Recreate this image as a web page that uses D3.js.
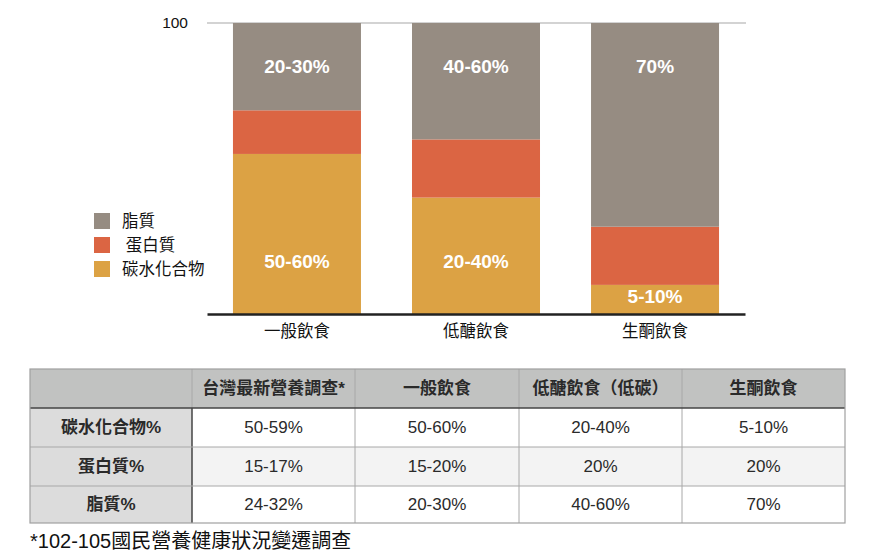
<!DOCTYPE html>
<html><head><meta charset="utf-8">
<script src="https://cdn.jsdelivr.net/npm/d3@7/dist/d3.min.js"></script>
<style>
html,body{margin:0;padding:0;background:#fff;}
svg text{font-family:"Liberation Sans","Helvetica","Noto Sans CJK TC",sans-serif;}
</style></head>
<body>
<svg id="c" width="875" height="560"></svg>
<script>
// ---- data ----
const categories = ["一般飲食", "低醣飲食", "生酮飲食"];
const seriesNames = ["碳水化合物", "蛋白質", "脂質"];
const carbs   = [55, 40, 10];
const protein = [15, 20, 20];
const fat     = [30, 40, 70];
const fatLabels   = ["20-30%", "40-60%", "70%"];
const carbLabels  = ["50-60%", "20-40%", "5-10%"];
const fatLabelPos  = [85, 85, 85];
const carbLabelPos = [18, 18, 6];
const yTicks = [100];
const legendNames = ["脂質", " 蛋白質", "碳水化合物"];
const tableHeader = ["", "台灣最新營養調查*", "一般飲食", "低醣飲食（低碳）", "生酮飲食"];
const tableRowLabels = ["碳水化合物%", "蛋白質%", "脂質%"];
const tableValues = [
  ["50-59%", "50-60%", "20-40%", "5-10%"],
  ["15-17%", "15-20%", "20%", "20%"],
  ["24-32%", "20-30%", "40-60%", "70%"]
];
const footnote = "*102-105國民營養健康狀況變遷調查";

// ---- chart ----
const svg = d3.select("#c");
const colors = {"碳水化合物":"#dca244","蛋白質":"#db6543","脂質":"#968c82"};
const x = d3.scaleBand().domain(categories).range([207, 745]).paddingInner(0.285).paddingOuter(0.145);
const y = d3.scaleLinear().domain([0, 100]).range([314, 23]);

const rows = categories.map((c,i)=>({cat:c, "碳水化合物":carbs[i], "蛋白質":protein[i], "脂質":fat[i]}));
const stack = d3.stack().keys(seriesNames)(rows);

// gridline for 100
svg.append("g").selectAll("line").data(yTicks).join("line")
  .attr("x1", 207).attr("x2", 746).attr("y1", d=>y(d)).attr("y2", d=>y(d))
  .attr("stroke", "#c4c4c4").attr("stroke-width", 1.5);
svg.append("g").selectAll("text").data(yTicks).join("text")
  .attr("x", 188).attr("y", d=>y(d)).attr("dy", "0.35em").attr("text-anchor","end")
  .attr("font-size", 15.5).attr("fill", "#111").text(d=>d);

svg.append("g").selectAll("g").data(stack).join("g")
  .attr("fill", s=>colors[s.key])
  .selectAll("rect").data(s=>s).join("rect")
  .attr("x", d=>x(d.data.cat)).attr("width", x.bandwidth())
  .attr("y", d=>y(d[1])).attr("height", d=>y(d[0])-y(d[1]));

// baseline axis
const xAxis = svg.append("g").attr("transform", `translate(0,${y(0)})`)
  .call(d3.axisBottom(x).tickSize(0).tickPadding(11));
xAxis.select(".domain").attr("stroke", "#222").attr("stroke-width", 2.5);
xAxis.selectAll("text").attr("font-size", 16.5).attr("fill", "#111")
  .style("font-family", '"Noto Sans CJK TC",sans-serif');

// bar labels
const lab = svg.append("g").attr("fill","#fff").attr("font-size",19).attr("font-weight","bold").attr("text-anchor","middle");
lab.selectAll("text.f").data(categories).join("text").attr("class","f")
  .attr("x", c=>x(c)+x.bandwidth()/2).attr("y",(c,i)=>y(fatLabelPos[i])).attr("dy","0.35em")
  .text((c,i)=>fatLabels[i]);
lab.selectAll("text.cb").data(categories).join("text").attr("class","cb")
  .attr("x", c=>x(c)+x.bandwidth()/2).attr("y",(c,i)=>y(carbLabelPos[i])).attr("dy","0.35em")
  .text((c,i)=>carbLabels[i]);

// legend
const legColors = ["#968c82","#db6543","#dca244"];
const leg = svg.append("g").attr("transform","translate(94,213)");
const li = leg.selectAll("g").data(legendNames).join("g").attr("transform",(d,i)=>`translate(0,${i*24})`);
li.append("rect").attr("width",16).attr("height",16).attr("fill",(d,i)=>legColors[i]);
li.append("text").attr("x",28).attr("y",8).attr("dy","0.35em").attr("font-size",16.5).attr("fill","#111")
  .style("white-space","pre").style("font-family",'"Noto Sans CJK TC",sans-serif').text(d=>d);

// ---- table ----
const tx = [30,192,355,519,682,845];
const ty = [369,408,447,486,523];
const t = svg.append("g");
// backgrounds
t.append("rect").attr("x",tx[0]).attr("y",ty[0]).attr("width",tx[5]-tx[0]).attr("height",ty[1]-ty[0]).attr("fill","#c1c2c1");
t.append("rect").attr("x",tx[0]).attr("y",ty[1]).attr("width",tx[1]-tx[0]).attr("height",ty[4]-ty[1]).attr("fill","#dcdcdc");
t.append("rect").attr("x",tx[1]).attr("y",ty[2]).attr("width",tx[5]-tx[1]).attr("height",ty[3]-ty[2]).attr("fill","#f3f3f3");
// grid lines
[1,2,3,4].forEach(i=>{
  t.append("line").attr("x1",tx[i]).attr("x2",tx[i]).attr("y1",ty[0]).attr("y2",ty[1]).attr("stroke","#a8a8a8").attr("stroke-width",1);
  t.append("line").attr("x1",tx[i]).attr("x2",tx[i]).attr("y1",ty[1]).attr("y2",ty[4])
    .attr("stroke", i===1?"#444":"#a8a8a8").attr("stroke-width", i===1?1.5:1);
});
[2,3].forEach(j=>{
  t.append("line").attr("x1",tx[0]).attr("x2",tx[5]).attr("y1",ty[j]).attr("y2",ty[j]).attr("stroke","#a8a8a8").attr("stroke-width",1);
});
t.append("line").attr("x1",tx[0]).attr("x2",tx[5]).attr("y1",ty[1]).attr("y2",ty[1]).attr("stroke","#444").attr("stroke-width",1.5);
t.append("rect").attr("x",tx[0]).attr("y",ty[0]).attr("width",tx[5]-tx[0]).attr("height",ty[4]-ty[0])
  .attr("fill","none").attr("stroke","#a0a0a0").attr("stroke-width",1.2);
// header text
t.selectAll("text.h").data(tableHeader).join("text").attr("class","h")
  .attr("x",(d,i)=>(tx[i]+tx[i+1])/2).attr("y",(ty[0]+ty[1])/2).attr("dy","0.35em")
  .attr("text-anchor","middle").attr("font-size",17).attr("font-weight","bold").attr("fill","#2a2a2a").text(d=>d);
// row labels
t.selectAll("text.r").data(tableRowLabels).join("text").attr("class","r")
  .attr("x",(tx[0]+tx[1])/2).attr("y",(d,j)=>(ty[j+1]+ty[j+2])/2).attr("dy","0.35em")
  .attr("text-anchor","middle").attr("font-size",17).attr("font-weight","bold").attr("fill","#2a2a2a").text(d=>d);
// values
tableValues.forEach((row,j)=>{
  t.selectAll(`text.v${j}`).data(row).join("text").attr("class",`v${j}`)
    .attr("x",(d,i)=>(tx[i+1]+tx[i+2])/2).attr("y",(ty[j+1]+ty[j+2])/2).attr("dy","0.35em")
    .attr("text-anchor","middle").attr("font-size",17).attr("fill","#2a2a2a").text(d=>d);
});
svg.append("text").attr("x",30).attr("y",541).attr("dy","0.35em").attr("font-size",20).attr("fill","#111").text(footnote);
</script>
</body></html>
